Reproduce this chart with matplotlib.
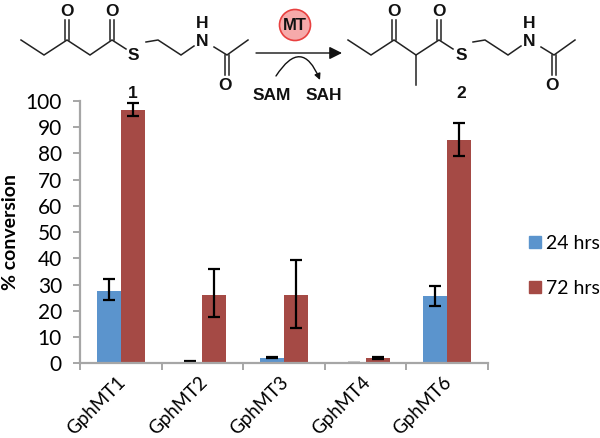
import numpy as np
import matplotlib
matplotlib.use('Agg')
import matplotlib.pyplot as plt
from matplotlib.patches import Circle, FancyArrowPatch, Patch
from matplotlib.transforms import ScaledTranslation

# Chart values.
enzymes = ['GphMT1', 'GphMT2', 'GphMT3', 'GphMT4', 'GphMT6']
hrs24 = [27.7, 0.5, 2.2, 0.3, 25.5]
hrs72 = [96.7, 26, 26, 2, 85]
hrs24_low = [24, 0.5, 2.2, 0.2, 22]
hrs24_high = [32, 0.8, 2.5, 0.3, 29.5]
hrs72_low = [94.2, 17.5, 13.5, 1.5, 79]
hrs72_high = [99.2, 36, 39.3, 2.5, 91.8]

blue = '#5b94cd'
red = '#a54a45'
grey = '#a6a6a6'
chem_font = 'Liberation Sans'

plt.rcParams['font.family'] = ['Lato', 'DejaVu Sans']

fig = plt.figure(figsize=(6, 4.38), dpi=100)
ax = fig.add_axes([80/600, 1-363.3/438, 408/600, 262.3/438])

# Bars with their error bars.
x = np.arange(len(enzymes)) + 0.5
w = 0.295
err24 = [np.array(hrs24)-np.array(hrs24_low), np.array(hrs24_high)-np.array(hrs24)]
err72 = [np.array(hrs72)-np.array(hrs72_low), np.array(hrs72_high)-np.array(hrs72)]
errstyle = dict(ecolor='black', elinewidth=1.6, capsize=4.2, capthick=1.6)
ax.bar(x-w/2, hrs24, w, color=blue, yerr=err24, error_kw=errstyle)
ax.bar(x+w/2, hrs72, w, color=red, yerr=err72, error_kw=errstyle)

ax.set_xlim(0, 5)
ax.set_ylim(0, 100)
ax.set_yticks(range(0, 101, 10))
ax.tick_params(axis='y', labelsize=15, length=5, width=1.4, color=grey, pad=8)
ax.set_xticks(range(0, 6))
ax.set_xticklabels([])
ax.tick_params(axis='x', which='major', length=5, width=1.4, color=grey)
ax.set_xticks(x, minor=True)
ax.set_xticklabels(enzymes, minor=True, rotation=45, ha='right', va='top',
                   rotation_mode='anchor', fontsize=13.5)
ax.tick_params(axis='x', which='minor', length=0, pad=7)
# Nudge the slanted labels left, they end short of the bar centre in the picture.
shift = ScaledTranslation(-3/72, 0, fig.dpi_scale_trans)
for t in ax.get_xticklabels(minor=True):
    t.set_transform(t.get_transform() + shift)
ax.set_ylabel('% conversion', fontsize=14, fontweight='bold', labelpad=5)
for s in ['top', 'right']:
    ax.spines[s].set_visible(False)
for s in ['left', 'bottom']:
    ax.spines[s].set_color(grey)
    ax.spines[s].set_linewidth(1.6)

handles = [Patch(color=blue, label='24 hrs'), Patch(color=red, label='72 hrs')]
fig.legend(handles=handles, loc='center left', bbox_to_anchor=(529/600, 1-266/438),
           frameon=False, fontsize=14, handlelength=0.6, handleheight=0.6,
           handletextpad=0.26, labelspacing=1.45, borderpad=0, borderaxespad=0)

# Reaction scheme, drawn in image pixels on a blank overlay.
top = fig.add_axes([0, 0, 1, 1], facecolor='none')
top.set_xlim(0, 600)
top.set_ylim(438, 0)
top.axis('off')


def bonds(pts):
    top.plot([p[0] for p in pts], [p[1] for p in pts], color='#222222', lw=1.1,
             solid_joinstyle='miter')


def label(px, py, s, size=12.5):
    top.text(px, py, s, ha='center', va='center', fontsize=size, fontweight='bold',
             family=chem_font, color='#111111')


def double(px, y0, y1):
    bonds([(px-1.8, y0), (px-1.8, y1)])
    bonds([(px+1.8, y0), (px+1.8, y1)])


# Compound 1
bonds([(21, 40), (44, 55), (67, 40), (90, 55), (112, 40), (126, 49)])
bonds([(146, 42), (158, 40), (181, 55), (194, 46)])
bonds([(214, 47), (227, 55), (248, 40)])
double(67, 20, 40)
double(112, 20, 40)
double(227, 55, 75)
label(67, 11, 'O')
label(112, 11, 'O')
label(133, 56, 'S')
label(202, 42, 'N')
label(202, 23, 'H')
label(225, 85, 'O')
label(133, 93, '1')

# Compound 2
bonds([(348, 40), (371, 55), (394, 40), (416, 55), (439, 40), (453, 49)])
bonds([(473, 42), (485, 40), (508, 55), (521, 46)])
bonds([(541, 47), (554, 55), (575, 40)])
bonds([(416, 55), (416, 85)])
double(394, 20, 40)
double(439, 20, 40)
double(554, 55, 75)
label(394, 11, 'O')
label(439, 11, 'O')
label(461, 56, 'S')
label(529, 42, 'N')
label(529, 23, 'H')
label(552, 85, 'O')
label(461, 93, '2')

# Reaction arrows and enzyme badge
top.add_patch(FancyArrowPatch((256, 53), (342, 53), arrowstyle='-|>', mutation_scale=19,
                              color='#111111', lw=1.0, shrinkA=0, shrinkB=0))
top.add_patch(FancyArrowPatch((276, 76), (320, 80), connectionstyle='arc3,rad=-0.95',
                              arrowstyle='-|>', mutation_scale=9, color='#111111', lw=1.0,
                              shrinkA=0, shrinkB=0))
top.add_patch(Circle((295, 25), 15.5, facecolor='#f6aaaa', edgecolor='#e8403f', lw=1.2))
label(295, 25, 'MT', 12)
label(272, 96, 'SAM', 12.5)
label(324, 96, 'SAH', 12.5)

fig.savefig('out.png', dpi=100)
